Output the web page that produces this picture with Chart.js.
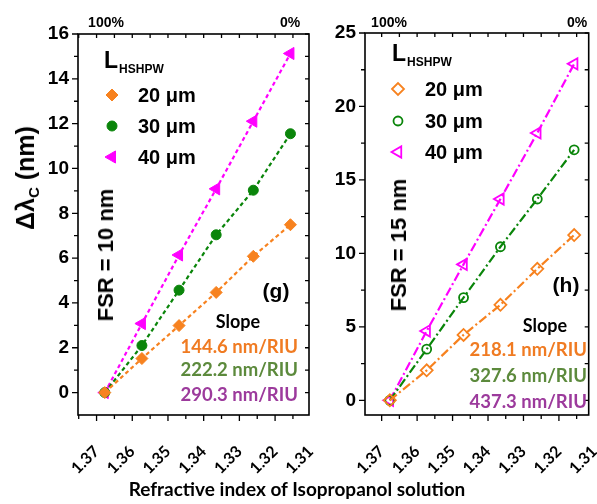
<!DOCTYPE html>
<html>
<head>
<meta charset="utf-8">
<script src="https://cdn.jsdelivr.net/npm/chart.js@4.4.0/dist/chart.umd.min.js"></script>
<style>
  html, body { margin: 0; padding: 0; background: #fff; }
  #wrap { position: relative; width: 597px; height: 504px; overflow: hidden; font-family: "Liberation Sans", Arial, sans-serif; }
  canvas { position: absolute; left: 0; top: 0; }
  .t { position: absolute; white-space: nowrap; font-weight: bold; color: #000; line-height: 1; }
  .c { transform: translate(-50%, -50%); }
  .l { transform: translate(0, -50%); }
  .r { transform: translate(-100%, -50%); }
  .rot { transform: translate(-50%, -50%) rotate(-90deg); }
  .pct { font-size: 14px; }
  .key { font-size: 20px; }
  .hdr { font-size: 23px; }
  .hdr sub { font-size: 12px; vertical-align: -5px; margin-left: 1px; }
  .fsr { font-size: 22px; }
  .tag { font-size: 21px; }
  .cal { font-family: Lato, "Open Sans", sans-serif; }
  .slope { font-size: 18px; }
  .sv { font-size: 18.5px; }
</style>
</head>
<body>
<div id="wrap">
  <canvas id="g" width="597" height="504"></canvas>
  <canvas id="h" width="597" height="504"></canvas>

  <div class="t rot" style="left:27px; top:178px; font-size:25px;">Δλ<sub style="font-size:15px; vertical-align:-5px;">C</sub> (nm)</div>
  <div class="t c cal" style="left:297px; top:488px; font-size:19px;">Refractive index of Isopropanol solution</div>

  <div class="t c pct" style="left:106px; top:22px;">100%</div>
  <div class="t c pct" style="left:290px; top:22px;">0%</div>
  <div class="t l hdr" style="left:104px; top:62px;">L<sub>HSHPW</sub></div>
  <div class="t l key" style="left:138px; top:95px;">20 μm</div>
  <div class="t l key" style="left:138px; top:126px;">30 μm</div>
  <div class="t l key" style="left:138px; top:157px;">40 μm</div>
  <div class="t rot fsr" style="left:106px; top:255px;">FSR = 10 nm</div>
  <div class="t c tag" style="left:276px; top:290px;">(g)</div>
  <div class="t c cal slope" style="left:238px; top:321px;">Slope</div>
  <div class="t r cal sv" style="left:298px; top:346px; color:#f07b22;">144.6 nm/RIU</div>
  <div class="t r cal sv" style="left:298px; top:369px; color:#5c8a3c;">222.2 nm/RIU</div>
  <div class="t r cal sv" style="left:298px; top:394px; color:#9c3a9c;">290.3 nm/RIU</div>

  <div class="t c pct" style="left:389px; top:22px;">100%</div>
  <div class="t c pct" style="left:577px; top:22px;">0%</div>
  <div class="t l hdr" style="left:392px; top:55px;">L<sub>HSHPW</sub></div>
  <div class="t l key" style="left:425px; top:89px;">20 μm</div>
  <div class="t l key" style="left:425px; top:121px;">30 μm</div>
  <div class="t l key" style="left:425px; top:152px;">40 μm</div>
  <div class="t rot fsr" style="left:399px; top:245px;">FSR = 15 nm</div>
  <div class="t c tag" style="left:566px; top:284px;">(h)</div>
  <div class="t c cal slope" style="left:545px; top:325px;">Slope</div>
  <div class="t r cal sv" style="left:587px; top:349px; color:#f07b22;">218.1 nm/RIU</div>
  <div class="t r cal sv" style="left:587px; top:375px; color:#5c8a3c;">327.6 nm/RIU</div>
  <div class="t r cal sv" style="left:587px; top:401px; color:#9c3a9c;">437.3 nm/RIU</div>
</div>

<script>
// refractive index of each solution (100% ... 0% isopropanol)
const refIndex = [1.3677, 1.3573, 1.3469, 1.3365, 1.3261, 1.3157];

// panel (g), FSR = 10 nm
const shiftG20 = [0, 1.52, 2.99, 4.47, 6.08, 7.49];
const shiftG30 = [0, 2.10, 4.57, 7.04, 9.03, 11.55];
const shiftG40 = [0, 3.08, 6.14, 9.09, 12.11, 15.13];

// panel (h), FSR = 15 nm
const shiftH20 = [0, 2.04, 4.45, 6.50, 8.95, 11.25];
const shiftH30 = [0, 3.48, 6.99, 10.45, 13.70, 17.05];
const shiftH40 = [0, 4.72, 9.25, 13.70, 18.20, 22.90];

const xTicks = [1.37, 1.36, 1.35, 1.34, 1.33, 1.32, 1.31];
const xMinor = [1.375, 1.365, 1.355, 1.345, 1.335, 1.325, 1.315];
const yTicksG = [0, 2, 4, 6, 8, 10, 12, 14, 16];
const yMinorG = [1, 3, 5, 7, 9, 11, 13, 15];
const yTicksH = [0, 5, 10, 15, 20, 25];
const yMinorH = [2.5, 7.5, 12.5, 17.5, 22.5];

const ORANGE = '#f7821f';
const GREEN = '#0a850a';
const MAGENTA = '#ff00ff';

function series(vals, color, style, hollow, dash, radius) {
  return {
    data: refIndex.map((x, i) => ({ x: x, y: vals[i] })),
    borderColor: color,
    borderWidth: 2.2,
    borderDash: dash,
    showLine: true,
    fill: false,
    tension: 0,
    pointStyle: style,
    pointRotation: style === 'triangle' ? -90 : 0,
    pointRadius: radius,
    pointHoverRadius: radius,
    pointBackgroundColor: hollow ? 'rgba(0,0,0,0)' : color,
    pointBorderColor: color,
    pointBorderWidth: hollow ? 1.8 : 1
  };
}

// box, inward/outward ticks and legend markers
const frame = {
  id: 'frame',
  afterDraw(chart) {
    const o = chart.options.plugins.frame;
    const { ctx, chartArea: a } = chart;
    const xs = chart.scales.x, ys = chart.scales.y;
    ctx.save();
    ctx.strokeStyle = '#000';
    ctx.lineWidth = 1.6;
    ctx.strokeRect(a.left, a.top, a.right - a.left, a.bottom - a.top);
    ctx.lineWidth = 1.3;
    ctx.beginPath();
    const xAll = xTicks.map(v => [v, 6]).concat(xMinor.map(v => [v, 4]));
    xAll.forEach(([v, len]) => {
      const px = xs.getPixelForValue(v);
      if (px < a.left - 0.5 || px > a.right + 0.5) return;
      ctx.moveTo(px, a.bottom); ctx.lineTo(px, a.bottom + len);
      ctx.moveTo(px, a.top); ctx.lineTo(px, a.top + 4);
    });
    const yAll = o.yMajor.map(v => [v, 6]).concat(o.yMinor.map(v => [v, 4]));
    yAll.forEach(([v, len]) => {
      const py = ys.getPixelForValue(v);
      ctx.moveTo(a.left, py); ctx.lineTo(a.left - len, py);
      ctx.moveTo(a.right, py); ctx.lineTo(a.right - 4, py);
    });
    ctx.stroke();
    // legend markers
    chart.data.datasets.forEach((ds, i) => {
      ctx.fillStyle = ds.pointBackgroundColor;
      ctx.strokeStyle = ds.pointBorderColor;
      ctx.lineWidth = ds.pointBorderWidth;
      Chart.helpers.drawPoint(ctx, {
        pointStyle: ds.pointStyle,
        rotation: ds.pointRotation,
        radius: ds.pointRadius,
        borderWidth: ds.pointBorderWidth
      }, o.keyX, o.keyY[i]);
    });
    ctx.restore();
  }
};

function panel(id, sets, cfg) {
  return new Chart(document.getElementById(id), {
    type: 'scatter',
    data: { datasets: sets },
    plugins: [frame],
    options: {
      responsive: false,
      animation: false,
      events: [],
      layout: { padding: cfg.pad },
      plugins: {
        legend: { display: false },
        tooltip: { enabled: false },
        frame: { yMajor: cfg.yTicks, yMinor: cfg.yMinor, keyX: cfg.keyX, keyY: cfg.keyY }
      },
      scales: {
        x: {
          type: 'linear',
          reverse: true,
          min: cfg.xMin,
          max: cfg.xMax,
          grid: { display: false, drawTicks: false },
          border: { display: false },
          afterBuildTicks: s => { s.ticks = xTicks.map(v => ({ value: v })); },
          afterFit: s => { s.height = 89; s.paddingLeft = 0; s.paddingRight = 0; },
          ticks: {
            autoSkip: false,
            minRotation: 45,
            maxRotation: 45,
            padding: 27,
            color: '#000',
            font: { family: 'Lato', weight: 'bold', size: 16 },
            callback: v => v.toFixed(2)
          }
        },
        y: {
          min: -1,
          max: cfg.yMax,
          grid: { display: false, drawTicks: false },
          border: { display: false },
          afterBuildTicks: s => { s.ticks = cfg.yTicks.map(v => ({ value: v })); },
          afterFit: s => { s.width = cfg.yWidth; s.paddingTop = 0; s.paddingBottom = 0; },
          ticks: {
            padding: 9,
            color: '#000',
            font: { family: 'Liberation Sans', weight: 'bold', size: 19 }
          }
        }
      }
    }
  });
}

panel('g', [
  series(shiftG20, ORANGE, 'rectRot', false, [4, 3], 6),
  series(shiftG30, GREEN, 'circle', false, [4, 3], 5),
  series(shiftG40, MAGENTA, 'triangle', false, [4, 3], 7)
], {
  pad: { left: 0, top: 34, right: 288, bottom: 0 },
  yWidth: 78, yMax: 16, yTicks: yTicksG, yMinor: yMinorG,
  xMin: 1.3105, xMax: 1.3752,
  keyX: 112, keyY: [95, 126, 157]
});

panel('h', [
  series(shiftH20, ORANGE, 'rectRot', true, [9, 3, 2, 3], 6),
  series(shiftH30, GREEN, 'circle', true, [9, 3, 2, 3], 4.5),
  series(shiftH40, MAGENTA, 'triangle', true, [9, 3, 2, 3], 6.5)
], {
  pad: { left: 325, top: 33, right: 7, bottom: 0 },
  yWidth: 40, yMax: 25, yTicks: yTicksH, yMinor: yMinorH,
  xMin: 1.3116, xMax: 1.3747,
  keyX: 398, keyY: [89, 121, 152]
});
</script>
</body>
</html>
